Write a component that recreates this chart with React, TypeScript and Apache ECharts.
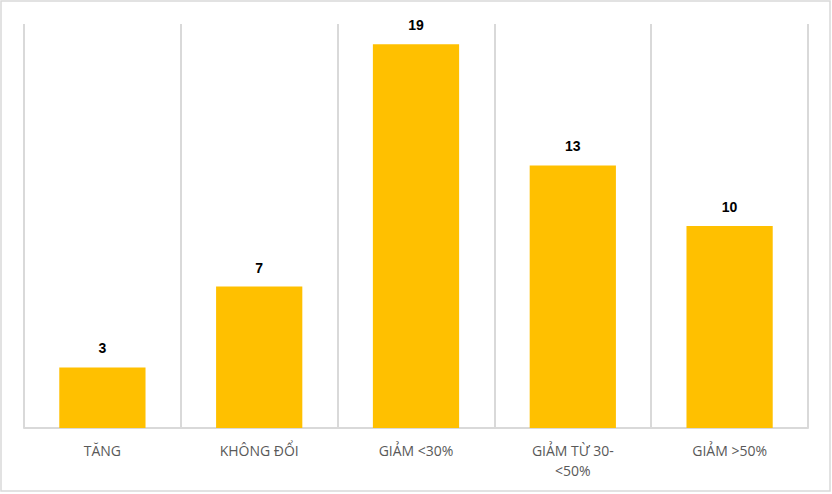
import * as echarts from 'echarts';
import { useEffect, useRef } from 'react';

const categories = ['TĂNG', 'KHÔNG ĐỔI', 'GIẢM <30%', 'GIẢM TỪ 30-<50%', 'GIẢM >50%'];
const counts = [3, 7, 19, 13, 10];

export default function App() {
  const chartRef = useRef<HTMLDivElement>(null);

  useEffect(() => {
    if (!chartRef.current) return;
    document.body.style.margin = '0';
    const chart = echarts.init(chartRef.current, undefined, { renderer: 'svg' });

    chart.setOption({
      animation: false,
      backgroundColor: '#fff',
      graphic: [
        {
          type: 'rect',
          shape: { x: 1, y: 1, width: 829, height: 490 },
          style: { fill: 'none', stroke: '#d9d9d9', lineWidth: 1.5 },
          silent: true,
        },
      ],
      grid: { left: 24, right: 24, top: 24, bottom: 66 },
      xAxis: {
        type: 'category',
        data: categories,
        axisLine: { lineStyle: { color: '#d9d9d9', width: 2 } },
        axisTick: { show: false },
        splitLine: { show: true, lineStyle: { color: '#d9d9d9', width: 2 } },
        axisLabel: {
          color: '#595959',
          fontSize: 14,
          fontFamily: 'Open Sans',
          margin: 12,
          lineHeight: 20,
          interval: 0,
          formatter: (v: string) => v.replace('-<', '-\n<'),
        },
      },
      yAxis: {
        type: 'value',
        min: 0,
        max: 20,
        show: false,
        splitLine: { show: false },
      },
      series: [
        {
          type: 'bar',
          data: counts,
          barCategoryGap: '45%',
          itemStyle: { color: '#ffc000' },
          label: {
            show: true,
            position: 'top',
            distance: 12,
            color: '#000',
            fontSize: 14,
            fontWeight: 'bold',
            fontFamily: 'Liberation Sans',
          },
        },
      ],
    });

    return () => chart.dispose();
  }, []);

  return <div ref={chartRef} style={{ width: 832, height: 494 }} />;
}
